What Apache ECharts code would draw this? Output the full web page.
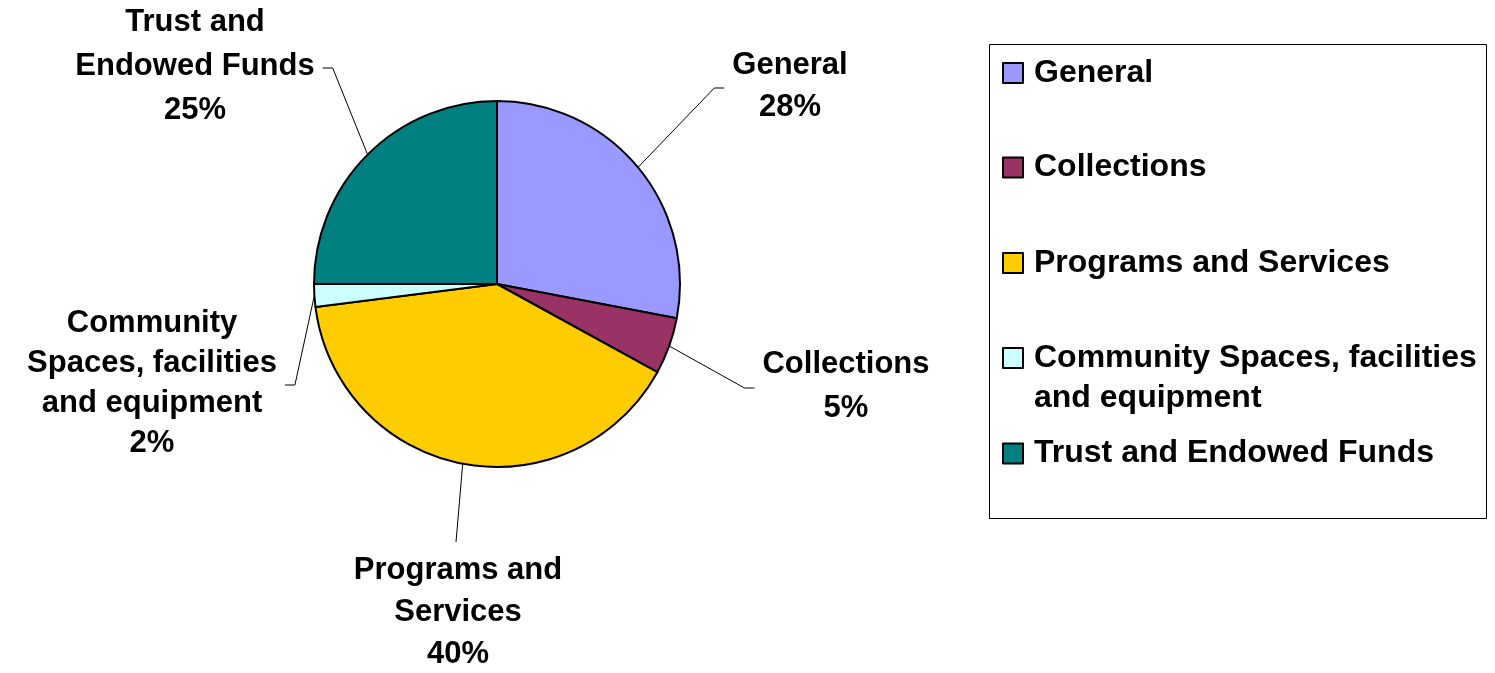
<!DOCTYPE html>
<html>
<head>
<meta charset="utf-8">
<script src="https://cdn.jsdelivr.net/npm/echarts@6/dist/echarts.min.js"></script>
<style>
  html, body { margin: 0; padding: 0; background: #fff; }
  #chart { width: 1495px; height: 673px; }
</style>
</head>
<body>
<div id="chart"></div>
<script>
// ---- data ----
const categories = ['General', 'Collections', 'Programs and Services', 'Community Spaces, facilities and equipment', 'Trust and Endowed Funds'];
const values = [28, 5, 40, 2, 25];
const pieLabelText = ['General', 'Collections', 'Programs and\nServices', 'Community\nSpaces, facilities\nand equipment', 'Trust and\nEndowed Funds'];
const legendText = ['General', 'Collections', 'Programs and Services', 'Community Spaces, facilities\nand equipment', 'Trust and Endowed Funds'];

// ---- styles / layout ----
const colors = ['#9999FF', '#993366', '#FFCC00', '#CCFFFF', '#008080'];
const FONT = 'Liberation Sans, Arial, sans-serif';
const CX = 497, CY = 284, R = 183;
const labelAnchors = [
  { x: 790, y: 86, side: 'right', lh: 42 },
  { x: 846, y: 386, side: 'right', lh: 44 },
  { x: 458, y: 612, side: 'bottom', lh: 42 },
  { x: 152, y: 383, side: 'left', lh: 40 },
  { x: 195, y: 66, side: 'left', lh: 44 }
];
const legendCenters = [73, 167.5, 263, 358, 453.5];

const total = values.reduce((a, b) => a + b, 0);
function midPoint(i) {
  let before = 0;
  for (let k = 0; k < i; k++) before += values[k];
  const frac = (before + values[i] / 2) / total;
  const ang = frac * 2 * Math.PI; // clockwise from top
  return [CX + R * Math.sin(ang), CY - R * Math.cos(ang)];
}

const data = categories.map((c, i) => ({
  name: c,
  value: values[i],
  itemStyle: { color: colors[i] },
  label: { lineHeight: labelAnchors[i].lh }
}));

const legends = categories.map((c, i) => {
  const multi = legendText[i].indexOf('\n') >= 0;
  return {
    data: [multi ? { name: c, icon: 'path://M0,0H20V20H0Z M0,60' } : { name: c, icon: 'rect' }],
    orient: 'vertical',
    left: 1002,
    top: legendCenters[i] - 20,
    padding: 0,
    itemWidth: 20,
    itemHeight: multi ? 60 : 20,
    selectedMode: false,
    formatter: () => legendText[i],
    itemStyle: { borderColor: '#000', borderWidth: 2 },
    textStyle: {
      fontFamily: FONT, fontWeight: 'bold', fontSize: 32, color: '#000',
      lineHeight: 40, padding: [0, 0, 0, 6]
    }
  };
});

const chart = echarts.init(document.getElementById('chart'), null, { renderer: 'canvas' });
chart.setOption({
  backgroundColor: '#fff',
  animation: false,
  legend: legends,
  graphic: [{
    type: 'rect',
    shape: { x: 989.5, y: 44.5, width: 497, height: 474 },
    style: { fill: 'none', stroke: '#000', lineWidth: 1 },
    silent: true
  }],
  series: [{
    type: 'pie',
    center: [CX, CY],
    radius: R,
    startAngle: 90,
    clockwise: true,
    avoidLabelOverlap: false,
    data: data,
    itemStyle: { borderColor: '#000', borderWidth: 2 },
    emphasis: { disabled: true },
    label: {
      show: true,
      position: 'outside',
      formatter: p => pieLabelText[p.dataIndex] + '\n' + Math.round(p.percent) + '%',
      fontFamily: FONT, fontWeight: 'bold', fontSize: 31, color: '#000',
      align: 'center'
    },
    labelLine: { show: true, lineStyle: { color: '#000', width: 1 } },
    labelLayout: function (p) {
      const i = p.dataIndex;
      const a = labelAnchors[i];
      const w = p.labelRect.width, h = p.labelRect.height;
      const start = midPoint(i);
      let end, bend;
      if (a.side === 'right') {
        end = [a.x - w / 2 - 8, a.y + 2];
        bend = [end[0] - 10, end[1]];
      } else if (a.side === 'left') {
        end = [a.x + w / 2 + 8, a.y + 2];
        bend = [end[0] + 10, end[1]];
      } else {
        end = [a.x - 2, a.y - h / 2 - 7];
        bend = end.slice();
      }
      return {
        x: a.x, y: a.y, align: 'center', verticalAlign: 'middle',
        labelLinePoints: [start, bend, end]
      };
    }
  }]
});
</script>
</body>
</html>
